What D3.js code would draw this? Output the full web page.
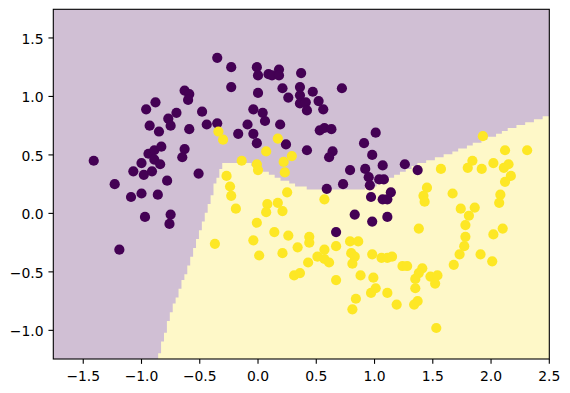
<!DOCTYPE html>
<html><head><meta charset="utf-8">
<script src="https://cdn.jsdelivr.net/npm/d3@7"></script>
<style>body{margin:0;background:#fff}</style>
</head><body><svg id="c" width="570" height="393"></svg>
<script>
// ---- data ----
const xTicks = [-1.5, -1.0, -0.5, 0.0, 0.5, 1.0, 1.5, 2.0, 2.5];
const yTicks = [-1.0, -0.5, 0.0, 0.5, 1.0, 1.5];
const xDomain = [-1.757, 2.5];
const yDomain = [-1.245, 1.745];

// class 0 (purple) points [x, y]
const class0 = [
[-1.41,0.45],[-1.23,0.25],[-1.19,-0.31],[-1.09,0.14],[-1.00,0.17],[-0.86,0.16],[-0.97,-0.03],
[-0.75,-0.01],[-0.76,-0.09],[-1.07,0.36],[-0.98,0.33],[-0.91,0.36],[-0.78,0.28],[-1.00,0.43],
[-0.94,0.51],[-0.89,0.54],[-0.89,0.46],[-0.83,0.57],[-0.84,0.42],[-0.63,0.55],[-0.65,0.48],
[-0.51,0.34],[-0.96,0.89],[-0.88,0.95],[-0.70,0.86],[-0.77,0.81],[-0.75,0.75],[-0.93,0.75],
[-0.85,0.70],[-0.59,0.72],[-0.63,1.05],[-0.59,1.02],[-0.60,0.97],[-0.35,1.33],[-0.23,1.25],
[-0.23,1.08],[-0.48,0.87],[-0.44,0.76],[-0.35,0.77],[-0.17,0.68],[-0.09,0.76],[-0.04,0.68],
[-0.04,0.89],[0.04,0.86],[0.06,0.79],[0.19,0.76],[-0.01,0.60],[0.24,0.59],[-0.01,1.25],
[0.00,1.18],[0.09,1.19],[0.12,1.18],[0.18,1.23],[0.18,1.18],[0.37,1.20],[0.00,1.03],
[0.21,1.07],[0.26,0.99],[0.36,1.08],[0.36,1.01],[0.36,0.94],[0.41,0.95],[0.42,0.88],
[0.47,1.04],[0.52,0.96],[0.56,0.89],[0.72,1.07],[0.42,0.54],[0.53,0.71],[0.57,0.73],
[0.63,0.72],[0.64,0.53],[0.61,0.48],[0.91,0.60],[1.01,0.69],[0.98,0.50],[1.07,0.41],
[0.79,0.37],[0.92,0.38],[0.95,0.31],[1.04,0.29],[1.08,0.29],[0.73,0.25],[0.96,0.24],
[0.59,0.21],[1.14,0.18],[0.97,0.14],[1.07,0.12],[1.11,0.12],[0.83,-0.01],[0.98,-0.07],
[1.11,-0.03],[0.67,-0.16],[1.26,0.42],[1.37,0.37]
];

// class 1 (yellow) points [x, y]
const class1 = [
[-0.34,0.70],[-0.30,0.63],[-0.14,0.45],[-0.27,0.32],[-0.24,0.23],[-0.23,0.15],[-0.19,0.04],
[-0.37,-0.26],[0.07,0.53],[0.17,0.64],[-0.01,0.42],[0.00,0.37],[0.22,0.44],[0.29,0.49],
[0.23,0.35],[0.25,0.18],[0.57,0.12],[0.08,0.08],[0.07,0.01],[0.17,0.09],[0.21,0.02],
[-0.01,-0.08],[-0.04,-0.23],[0.14,-0.16],[0.26,-0.19],[0.01,-0.36],[0.21,-0.34],[0.34,-0.29],
[0.44,-0.20],[0.44,-0.25],[0.43,-0.42],[0.31,-0.53],[0.36,-0.51],[0.51,-0.37],[0.57,-0.31],
[0.57,-0.39],[0.61,-0.42],[0.67,-0.28],[0.67,-0.57],[0.79,-0.24],[0.86,-0.24],[0.80,-0.34],
[0.83,-0.37],[0.81,-0.43],[0.88,-0.53],[0.98,-0.35],[0.99,-0.55],[0.97,-0.68],[1.01,-0.64],
[0.84,-0.73],[0.81,-0.82],[1.06,-0.38],[1.11,-0.38],[1.15,-0.37],[1.11,-0.68],[1.19,-0.78],
[1.24,-0.45],[1.28,-0.45],[1.41,-0.47],[1.38,-0.51],[1.35,-0.56],[1.48,-0.54],[1.54,-0.53],
[1.52,-0.60],[1.35,-0.64],[1.34,-0.78],[1.37,-0.75],[1.53,-0.98],[1.38,-0.13],[1.45,0.22],
[1.42,0.15],[1.43,0.10],[1.67,0.17],[1.74,0.04],[1.86,0.05],[1.81,-0.02],[1.78,-0.10],
[1.78,-0.20],[1.77,-0.28],[1.73,-0.35],[1.68,-0.44],[2.08,0.16],[2.07,0.09],[2.10,-0.13],
[2.02,-0.18],[1.91,-0.35],[2.01,-0.41],[1.93,0.66],[1.57,0.38],[1.84,0.45],[1.80,0.39],
[1.92,0.38],[2.02,0.43],[2.12,0.54],[2.31,0.54],[2.11,0.39],[2.15,0.42],[2.17,0.32],[2.12,0.27]
];

// decision boundary (upper/left edge of the yellow region), [x, y]
const boundary = [
[-0.87,-1.27],[-0.800,-1.031],[-0.729,-0.800],[-0.629,-0.535],[-0.557,-0.330],[-0.500,-0.159],
[-0.457,-0.039],[-0.400,0.149],[-0.371,0.243],[-0.337,0.328],[-0.303,0.422],[-0.071,0.422],
[-0.003,0.397],[0.100,0.345],[0.212,0.286],[0.358,0.230],[0.501,0.204],[0.615,0.196],
[0.786,0.200],[0.915,0.217],[1.001,0.239],[1.069,0.271],[1.155,0.311],[1.215,0.341],
[1.327,0.399],[1.616,0.499],[1.901,0.613],[2.184,0.730],[2.55,0.85]
];
const gridStep = 0.025;

// ---- drawing ----
const svg = d3.select("#c");
const x = d3.scaleLinear().domain(xDomain).range([53.3, 549.3]);
const y = d3.scaleLinear().domain(yDomain).range([359, 9.3]);

const purpleBg = "#d0bfd4", yellowBg = "#fef8c8";
const purple = "#440154", yellow = "#fde725";

svg.append("rect").attr("x", x(xDomain[0])).attr("y", y(yDomain[1]))
  .attr("width", x(xDomain[1]) - x(xDomain[0])).attr("height", y(yDomain[0]) - y(yDomain[1]))
  .attr("fill", purpleBg);

// rasterised yellow region (staircase like a contourf of a mesh grid)
const poly = boundary.concat([[2.6, -1.4], [-0.9, -1.4]]);
const nx = Math.ceil((xDomain[1] - xDomain[0]) / gridStep);
const ny = Math.ceil((yDomain[1] - yDomain[0]) / gridStep);
const cols = [];
for (let i = 0; i < nx; i++) {
  const cx = xDomain[0] + (i + 0.5) * gridStep;
  let k = 0;
  while (k < ny && d3.polygonContains(poly, [cx, yDomain[0] + (k + 0.5) * gridStep])) k++;
  if (k > 0) cols.push({x0: xDomain[0] + i * gridStep, x1: Math.min(xDomain[1], xDomain[0] + (i + 1) * gridStep),
                        top: Math.min(yDomain[1], yDomain[0] + k * gridStep)});
}
if (cols.length) {
  const p = d3.path();
  p.moveTo(x(cols[0].x0), y(yDomain[0]));
  cols.forEach(c => { p.lineTo(x(c.x0), y(c.top)); p.lineTo(x(c.x1), y(c.top)); });
  p.lineTo(x(cols[cols.length - 1].x1), y(yDomain[0]));
  p.closePath();
  svg.append("path").attr("d", p.toString()).attr("fill", yellowBg);
}

// points
svg.append("g").selectAll("circle").data(class0).join("circle")
  .attr("cx", d => x(d[0])).attr("cy", d => y(d[1])).attr("r", 5.1).attr("fill", purple);
svg.append("g").selectAll("circle").data(class1).join("circle")
  .attr("cx", d => x(d[0])).attr("cy", d => y(d[1])).attr("r", 5.1).attr("fill", yellow);

// spines
svg.append("rect").attr("x", x(xDomain[0])).attr("y", y(yDomain[1]))
  .attr("width", x(xDomain[1]) - x(xDomain[0])).attr("height", y(yDomain[0]) - y(yDomain[1]))
  .attr("fill", "none").attr("stroke", "#000").attr("stroke-width", 1.1);

const fmt = v => (v < 0 ? "\u2212" : "") + Math.abs(v).toFixed(1);
const font = "DejaVu Sans";
const tl = 4.86;
// x ticks
const gx = svg.append("g");
xTicks.forEach(t => {
  gx.append("line").attr("x1", x(t)).attr("x2", x(t)).attr("y1", y(yDomain[0])).attr("y2", y(yDomain[0]) + tl)
    .attr("stroke", "#000").attr("stroke-width", 1.1);
  gx.append("text").attr("x", x(t)).attr("y", 380.5).attr("text-anchor", "middle")
    .attr("font-family", font).attr("font-size", 13.9).attr("fill", "#000").text(fmt(t));
});
// y ticks
const gy = svg.append("g");
yTicks.forEach(t => {
  gy.append("line").attr("x1", x(xDomain[0]) - tl).attr("x2", x(xDomain[0])).attr("y1", y(t)).attr("y2", y(t))
    .attr("stroke", "#000").attr("stroke-width", 1.1);
  gy.append("text").attr("x", x(xDomain[0]) - tl - 4.86).attr("y", y(t) + 5.8).attr("text-anchor", "end")
    .attr("font-family", font).attr("font-size", 13.9).attr("fill", "#000").text(fmt(t));
});
</script>
</body></html>
